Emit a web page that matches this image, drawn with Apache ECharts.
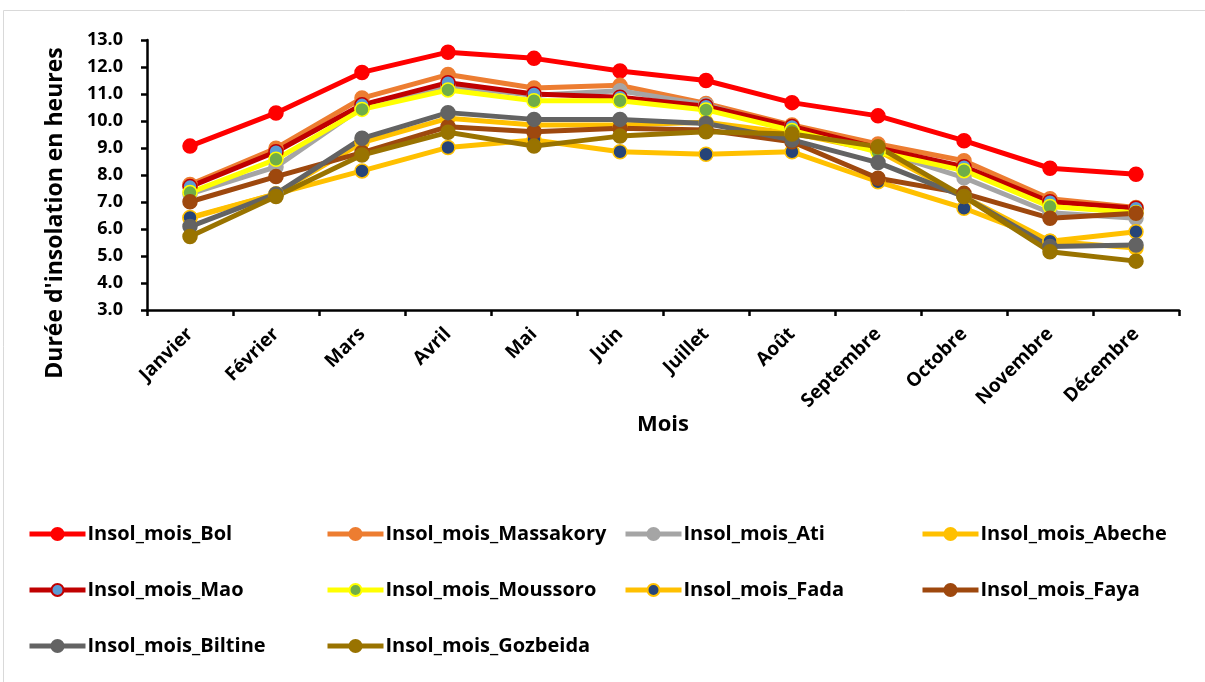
<!DOCTYPE html>
<html>
<head>
<meta charset="utf-8">
<script src="https://cdn.jsdelivr.net/npm/echarts@6/dist/echarts.min.js"></script>
<style>
html,body{margin:0;padding:0;background:#fff;}
#c{width:1205px;height:682px;}
</style>
</head>
<body>
<div id="c"></div>
<script>
const months = ['Janvier','Février','Mars','Avril','Mai','Juin','Juillet','Août','Septembre','Octobre','Novembre','Décembre'];
const yTicks = [3,4,5,6,7,8,9,10,11,12,13];

const bol       = [9.07,10.3,11.8,12.55,12.32,11.85,11.5,10.68,10.19,9.27,8.25,8.03];
const massakory = [7.65,8.99,10.85,11.72,11.22,11.32,10.65,9.85,9.15,8.53,7.12,6.8];
const ati       = [7.3,8.3,10.5,11.3,10.95,11.12,10.6,9.7,8.9,7.9,6.6,6.4];
const abeche    = [6.4,7.3,9.2,10.1,9.85,9.85,9.95,9.55,8.9,7.2,5.55,5.3];
const mao       = [7.57,8.86,10.6,11.42,11.0,10.88,10.55,9.8,9.0,8.31,7.01,6.77];
const moussoro  = [7.35,8.58,10.43,11.15,10.75,10.75,10.41,9.65,8.85,8.16,6.83,6.6];
const fada      = [6.43,7.3,8.15,9.02,9.3,8.86,8.77,8.86,7.75,6.77,5.55,5.9];
const faya      = [7.01,7.94,8.83,9.79,9.6,9.73,9.67,9.23,7.88,7.32,6.4,6.58];
const biltine   = [6.09,7.3,9.36,10.31,10.06,10.06,9.91,9.3,8.46,7.2,5.35,5.41];
const gozbeida  = [5.72,7.2,8.74,9.58,9.07,9.44,9.6,9.52,9.05,7.2,5.16,4.81];

const names = ['Insol_mois_Bol','Insol_mois_Massakory','Insol_mois_Ati','Insol_mois_Abeche','Insol_mois_Mao','Insol_mois_Moussoro','Insol_mois_Fada','Insol_mois_Faya','Insol_mois_Biltine','Insol_mois_Gozbeida'];
const datas = [bol,massakory,ati,abeche,mao,moussoro,fada,faya,biltine,gozbeida];
const lineColors = ['#FF0000','#ED7D31','#A5A5A5','#FFC000','#C00000','#FFFF00','#FFC000','#9E480E','#636363','#997300'];
const markFill   = ['#FF0000','#ED7D31','#A5A5A5','#FFC000','#5B9BD5','#70AD47','#264478','#9E480E','#636363','#997300'];

const FONT = 'Open Sans';

const series = names.map((n,i)=>({
  name:n, type:'line', data:datas[i],
  symbol:'circle', symbolSize: 14,
  lineStyle:{color:lineColors[i], width:5},
  itemStyle:{color:markFill[i], borderColor:lineColors[i], borderWidth:1.5},
  emphasis:{disabled:true},
  animation:false
}));

function legend(left, data){
  return {
    left:left, top:519, orient:'vertical', itemGap:36, itemWidth:56, itemHeight:15,
    data:data, selectedMode:false,
    lineStyle:{width:5},
    textStyle:{fontFamily:FONT, fontWeight:'bold', fontSize:20, color:'#000', padding:[0,0,0,-3]}
  };
}

const chart = echarts.init(document.getElementById('c'), null, {renderer:'canvas'});
chart.setOption({
  backgroundColor:'#fff',
  animation:false,
  graphic:[{type:'rect', shape:{x:3.5,y:10.5,width:1210,height:680}, style:{fill:'none', stroke:'#D9D9D9', lineWidth:1}, silent:true}],
  grid:{left:147, right:26, top:40, bottom:372, containLabel:false},
  legend:[
    legend(22, [names[0],names[4],names[8]]),
    legend(320, [names[1],names[5],names[9]]),
    legend(618, [names[2],names[6]]),
    legend(915, [names[3],names[7]])
  ],
  xAxis:{
    type:'category', data:months, boundaryGap:true,
    name:'Mois', nameLocation:'middle', nameGap:102,
    nameTextStyle:{fontFamily:FONT, fontWeight:'bold', fontSize:22, color:'#000'},
    axisLine:{lineStyle:{color:'#000', width:2.5}},
    axisTick:{show:true, alignWithLabel:false, length:6, lineStyle:{color:'#000', width:2.5}},
    axisLabel:{rotate:45, fontFamily:FONT, fontWeight:'bold', fontSize:19, color:'#000', margin:21},
    splitLine:{show:false}
  },
  yAxis:{
    type:'value', min:3, max:13, interval:1,
    name:"Durée d'insolation en heures", nameLocation:'middle', nameGap:80, nameRotate:90,
    nameTextStyle:{fontFamily:FONT, fontWeight:'bold', fontSize:23, color:'#000', padding:[0,76,0,0]},
    axisLine:{show:true, lineStyle:{color:'#000', width:2.5}},
    axisTick:{show:true, length:6, lineStyle:{color:'#000', width:2.5}},
    axisLabel:{fontFamily:FONT, fontWeight:'bold', fontSize:18, color:'#000', margin:24,
      formatter:v=>v.toFixed(1)},
    splitLine:{show:false}
  },
  series:series
});
</script>
</body>
</html>
